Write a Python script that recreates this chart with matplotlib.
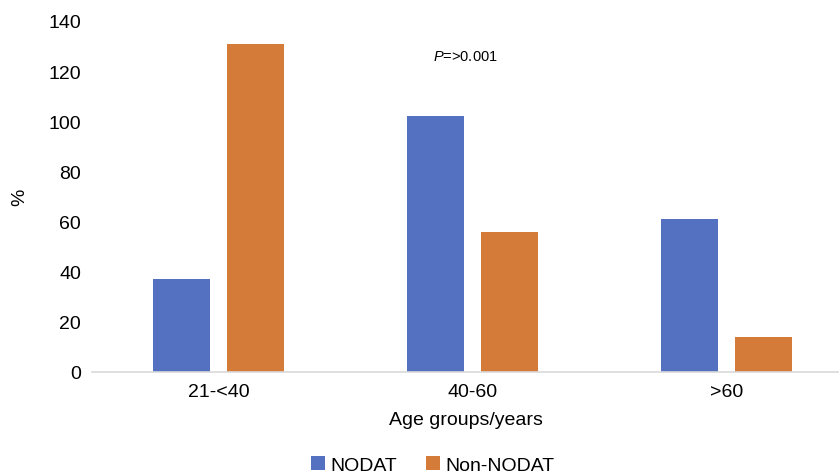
import matplotlib
matplotlib.use('Agg')
import matplotlib.pyplot as plt
import numpy as np

# Данные
groups = ['21-<40', '40-60', '>60']
nodat = [37, 102, 61]
non_nodat = [131, 56, 14]

plt.rcParams['font.family'] = ['Liberation Sans', 'DejaVu Sans']
plt.rcParams['mathtext.fontset'] = 'custom'
plt.rcParams['mathtext.it'] = 'Liberation Sans:italic'

fig = plt.figure(figsize=(8.39, 4.77), dpi=100)
ax = fig.add_axes([92 / 839, 104 / 477, 747 / 839, 351 / 477])

x = np.arange(len(groups))
w = 0.225
ax.bar(x - 0.146, nodat, w, color='#5470C0', label='NODAT')
ax.bar(x + 0.146, non_nodat, w, color='#D57B3A', label='Non-NODAT')

ax.set_xlim(-0.5, 2.445)
ax.set_ylim(0, 140)
ax.set_yticks(range(0, 141, 20))
ax.set_xticks(x)
ax.set_xticklabels(groups)
ax.tick_params(length=0, labelsize=14, pad=8)

for s in ['top', 'right', 'left']:
    ax.spines[s].set_visible(False)
ax.spines['bottom'].set_color('#D9D9D9')
ax.spines['bottom'].set_linewidth(1.2)

ax.set_xlabel('Age groups/years', fontsize=14, labelpad=8)
ax.set_ylabel('%', fontsize=14, labelpad=14)

ax.text(465 / 839, 1 - 57 / 477, r'$\it{P}$=>0.001', transform=fig.transFigure,
        ha='center', va='center', fontsize=10.5)

fig.legend(loc='center', bbox_to_anchor=(433 / 839, 1 - 466 / 477), ncol=2,
           frameon=False, fontsize=14, handlelength=0.7, handleheight=0.7,
           handletextpad=0.3, columnspacing=1.5)

fig.savefig('out.png', dpi=100)
